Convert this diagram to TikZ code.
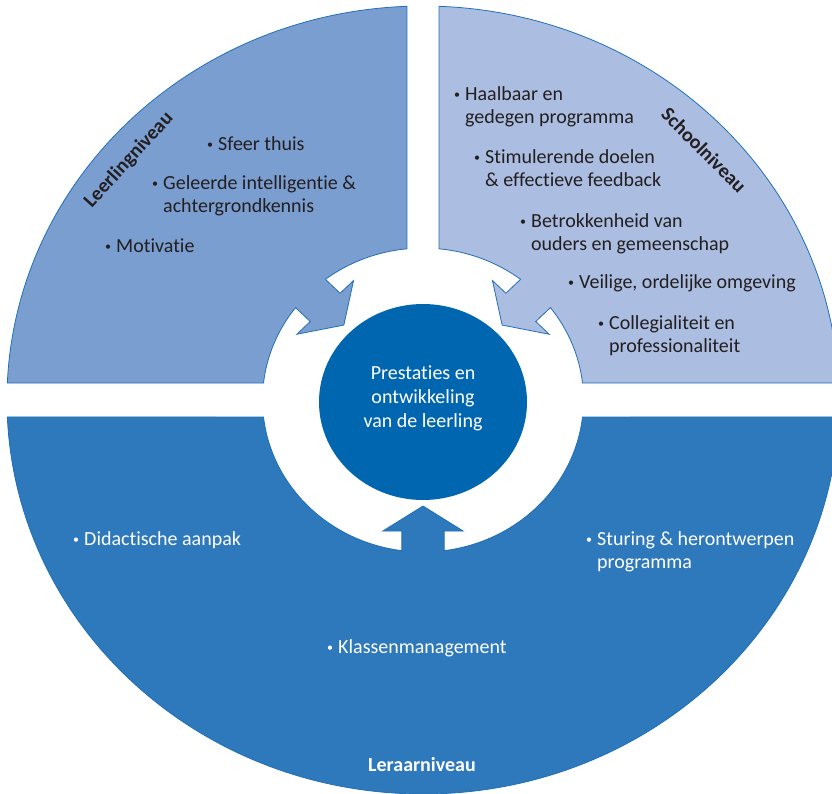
\documentclass[tikz,border=0pt]{standalone}
\usepackage{fontspec}
\setmainfont{Carlito}[Ligatures={NoCommon}]
\usetikzlibrary{shapes.geometric}
\definecolor{qleft}{HTML}{7B9ED1}
\definecolor{qright}{HTML}{ABBDE0}
\definecolor{qbottom}{HTML}{2E78BC}
\definecolor{qcore}{HTML}{0066B0}
\definecolor{qedge}{HTML}{2170B8}
\definecolor{qtext}{HTML}{231F20}
\newcommand\blt{\llap{\raisebox{1.8pt}{\fontsize{12}{12}\selectfont\textbullet}\hspace{5pt}}}
\newcommand\lns[1]{\begin{tabular}[t]{@{}l@{}}#1\end{tabular}}
\tikzset{
  quarter/.style={draw=qedge, line width=0.8pt},
  item/.style={anchor=base west, inner sep=0pt, font=\fontsize{20}{23}\selectfont},
  darkitem/.style={item, text=qtext},
  lightitem/.style={item, text=white},
  level/.style={font=\fontsize{20}{23}\bfseries\selectfont, inner sep=0pt}
}
\begin{document}
\begin{tikzpicture}[x=1pt,y=1pt]
\useasboundingbox (0,0) rectangle (832,-793);
\begin{scope}
\clip (0,0) rectangle (832,-793);
\begin{scope}[shift={(423,-400)}, xscale=1.056]
  % left quarter (Leerlingniveau)
  \path[quarter, fill=qleft]
    (92.21:394) arc[start angle=92.21, end angle=177.53, radius=394]
    -- (173.58:152) arc[start angle=173.58, end angle=142.56, radius=152]
    -- (143.68:132.52) -- (151.18:136.4) -- (135:106) -- (118.82:136.4)
    -- (126.32:132.52) -- (127.44:152)
    arc[start angle=127.44, end angle=95.74, radius=152] -- cycle;
  % right quarter (Schoolniveau)
  \path[quarter, fill=qright]
    (87.79:394) arc[start angle=87.79, end angle=2.47, radius=394]
    -- (6.42:152) arc[start angle=6.42, end angle=37.44, radius=152]
    -- (36.32:132.52) -- (28.82:136.4) -- (45:106) -- (61.18:136.4)
    -- (53.68:132.52) -- (52.56:152)
    arc[start angle=52.56, end angle=84.26, radius=152] -- cycle;
  % bottom half (Leraarniveau)
  \path[quarter, fill=qbottom]
    (-2.47:394) arc[start angle=-2.47, end angle=-177.53, radius=394]
    -- (-173.58:152) arc[start angle=-173.58, end angle=-97.56, radius=152]
    -- (-98.68:132.52) -- (-106.18:136.4) -- (-90:106) -- (-73.82:136.4)
    -- (-81.32:132.52) -- (-82.44:152)
    arc[start angle=-82.44, end angle=-6.42, radius=152] -- cycle;
\end{scope}
\end{scope}

% centre
\node[ellipse, fill=qcore, minimum width=208pt, minimum height=196pt, inner sep=0pt] (core) at (423,-402) {};
\node[anchor=base, inner sep=0pt, font=\fontsize{20}{24}\selectfont, text=white] (coretext) at (423,-379)
  {\begin{tabular}[t]{@{}c@{}}Prestaties en\\ontwikkeling\\van de leerling\end{tabular}};

% level labels
\node[level, text=qtext, rotate=47.5] (lvlpupil) at (129,-160) {Leerlingniveau};
\node[level, text=qtext, rotate=-45] (lvlschool) at (704,-150) {Schoolniveau};
\node[level, text=white, anchor=base] (lvlteacher) at (422,-771) {Leraarniveau};

% left quarter items
\node[darkitem] (l1) at (218,-150) {\blt Sfeer thuis};
\node[darkitem] (l2) at (163,-189) {\lns{\blt Geleerde intelligentie \&\\achtergrondkennis}};
\node[darkitem] (l3) at (116,-252) {\blt Motivatie};

% right quarter items
\node[darkitem] (r1) at (465,-100) {\lns{\blt Haalbaar en\\gedegen programma}};
\node[darkitem] (r2) at (485,-163) {\lns{\blt Stimulerende doelen\\\& effectieve feedback}};
\node[darkitem] (r3) at (531,-227) {\lns{\blt Betrokkenheid van\\ouders en gemeenschap}};
\node[darkitem] (r4) at (579,-288) {\blt Veilige, ordelijke omgeving};
\node[darkitem] (r5) at (609,-329) {\lns{\blt Collegialiteit en\\professionaliteit}};

% bottom items
\node[lightitem] (b1) at (84,-545) {\blt Didactische aanpak};
\node[lightitem] (b2) at (597,-545) {\lns{\blt Sturing \& herontwerpen\\programma}};
\node[lightitem] (b3) at (338,-653) {\blt Klassenmanagement};
\end{tikzpicture}
\end{document}
